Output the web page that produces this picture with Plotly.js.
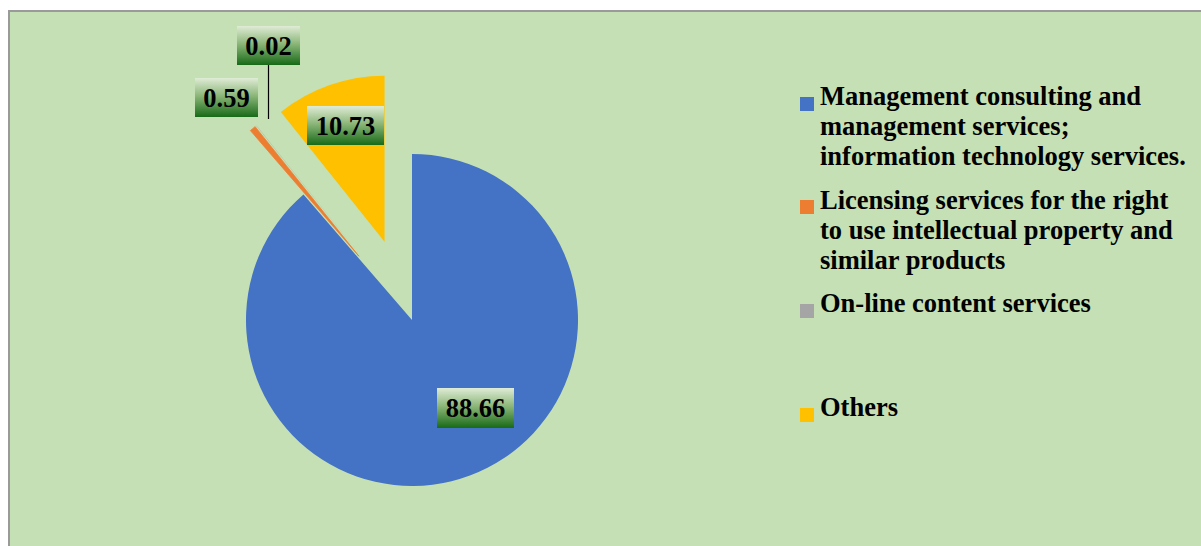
<!DOCTYPE html>
<html>
<head>
<meta charset="utf-8">
<script src="https://cdn.plot.ly/plotly-3.0.1.min.js"></script>
<style>
  html, body { margin: 0; padding: 0; background: #ffffff; overflow: hidden; width: 1201px; height: 546px; }
  #frame { position: absolute; left: 8px; top: 10px; border-left: 2px solid #9a9a9a; border-top: 2px solid #9a9a9a; }
  #chart { width: 1200px; height: 560px; }
</style>
</head>
<body>
<div id="frame"><div id="chart"></div></div>
<script>
// ---- data ----
const categories = [
  "Management consulting and management services; information technology services.",
  "Licensing services for the right to use intellectual property and similar products",
  "On-line content services",
  "Others"
];
const values = [88.66, 0.59, 0.02, 10.73];
const valueLabels = values.map(v => v.toFixed(2));
const legendLines = [
  ["Management consulting and", "management services;", "information technology services."],
  ["Licensing services for the right", "to use intellectual property and", "similar products"],
  ["On-line content services"],
  ["Others"]
];

// ---- style / layout ----
const colors = ["#4472C4", "#ED7D31", "#A5A5A5", "#FFC000"];
const lineWidths = [0, 0.8, 0, 0];
const pulls = [0, 0.5, 0.5, 0.5];
const W = 1200, H = 560;
const px = x => x / W;
const py = y => 1 - y / H;
const pieCx = 402, pieCy = 308, half = 249;

// label boxes: centre (plot px), size
const labelBoxes = [
  {cx: 465.5, cy: 396, w: 77, h: 40},
  {cx: 216.5, cy: 85.5, w: 63, h: 39},
  {cx: 258.5, cy: 33.5, w: 63, h: 39, tipY: 107},
  {cx: 335.5, cy: 113.5, w: 77, h: 39}
];
// legend: squares and text baselines (plot px)
const legendX = 790, legendTextX = 809, sq = 14;
const legendBaselines = [[93, 123, 153], [197, 227, 257], [300], [404]];
const legendSquareY = [85, 188, 292, 396];

const font = "Liberation Serif, Times New Roman, serif";

const trace = {
  type: "pie",
  values: values,
  labels: categories,
  sort: false,
  direction: "clockwise",
  rotation: 0,
  pull: pulls,
  marker: {colors: colors, line: {width: lineWidths, color: colors}},
  textinfo: "none",
  hoverinfo: "skip",
  showlegend: false,
  domain: {
    x: [px(pieCx - half), px(pieCx + half)],
    y: [py(pieCy + half), py(pieCy - half)]
  }
};

const annotations = [];
labelBoxes.forEach((b, i) => {
  const a = {
    xref: "paper", yref: "paper",
    text: "<b>" + valueLabels[i] + "</b>",
    font: {family: font, size: 26.5, color: "#000000"},
    bgcolor: "#6fa55a",
    borderpad: 0, borderwidth: 0,
    width: b.w, height: b.h,
    align: "center", valign: "middle"
  };
  if (b.tipY !== undefined) {
    a.x = px(b.cx); a.y = py(b.tipY);
    a.showarrow = true; a.arrowhead = 0; a.arrowwidth = 1.2; a.arrowcolor = "#000000";
    a.ax = 0; a.ay = b.cy - b.tipY; a.standoff = 0;
  } else {
    a.x = px(b.cx); a.y = py(b.cy);
    a.showarrow = false; a.xanchor = "center"; a.yanchor = "middle";
  }
  annotations.push(a);
});

const shapes = [];
legendLines.forEach((lines, i) => {
  shapes.push({
    type: "rect", xref: "paper", yref: "paper",
    x0: px(legendX), x1: px(legendX + sq),
    y0: py(legendSquareY[i] + sq), y1: py(legendSquareY[i]),
    fillcolor: colors[i], line: {width: 0}
  });
  lines.forEach((ln, j) => {
    annotations.push({
      xref: "paper", yref: "paper",
      x: px(legendTextX), y: py(legendBaselines[i][j] - 9),
      xanchor: "left", yanchor: "middle",
      text: "<b>" + ln + "</b>",
      showarrow: false, borderpad: 0,
      font: {family: font, size: 26.5, color: "#000000"}
    });
  });
});

const layout = {
  width: W, height: H,
  margin: {l: 0, r: 0, t: 0, b: 0, pad: 0},
  paper_bgcolor: "#C5E0B4",
  plot_bgcolor: "#C5E0B4",
  showlegend: false,
  annotations: annotations,
  shapes: shapes
};

Plotly.newPlot("chart", [trace], layout, {displayModeBar: false, staticPlot: true}).then(gd => {
  const svgNS = "http://www.w3.org/2000/svg";
  const svg = gd.querySelector(".main-svg");
  let defs = svg.querySelector("defs");
  if (!defs) { defs = document.createElementNS(svgNS, "defs"); svg.insertBefore(defs, svg.firstChild); }
  const grad = document.createElementNS(svgNS, "linearGradient");
  grad.setAttribute("id", "lblgrad");
  grad.setAttribute("x1", "0"); grad.setAttribute("y1", "0");
  grad.setAttribute("x2", "0"); grad.setAttribute("y2", "1");
  [["0%", "#dfecd6"], ["45%", "#8db77a"], ["100%", "#176a17"]].forEach(([o, c]) => {
    const s = document.createElementNS(svgNS, "stop");
    s.setAttribute("offset", o); s.setAttribute("stop-color", c);
    grad.appendChild(s);
  });
  defs.appendChild(grad);
  const groups = gd.querySelectorAll(".annotation");
  groups.forEach((g, k) => {
    if (k < labelBoxes.length) {
      const r = g.querySelector("rect.bg");
      if (r) r.style.fill = "url(#lblgrad)";
    }
  });
});
</script>
</body>
</html>
